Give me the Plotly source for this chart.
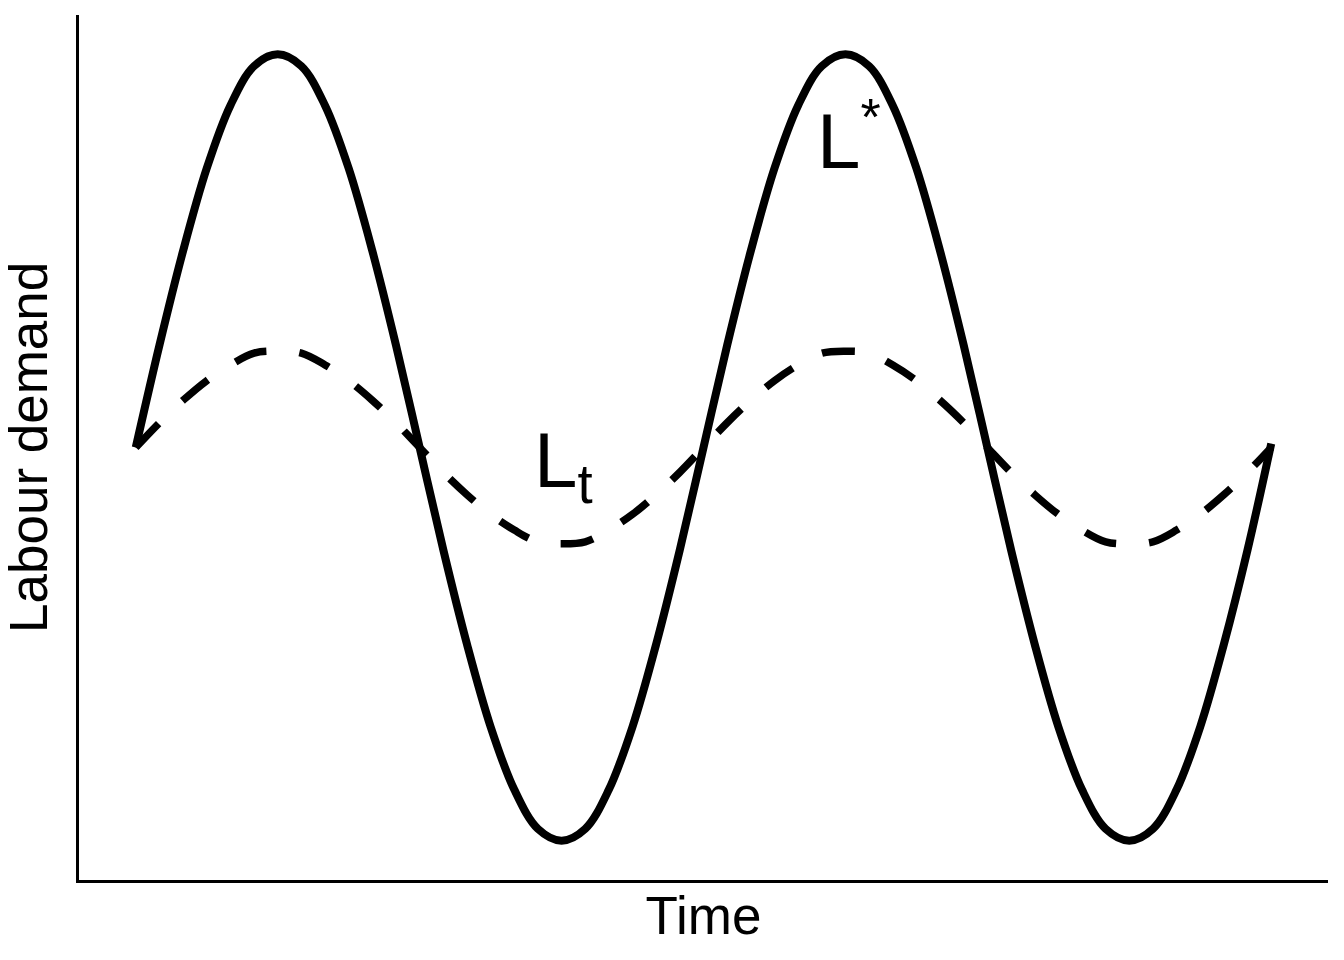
import plotly.graph_objects as go

# Time index (steps of 1/24 of a cycle)
time_idx = list(range(49))
# Target labour demand L* (solid)
l_star = [0.00, 0.26, 0.50, 0.71, 0.87, 0.97, 1.00, 0.97, 0.87, 0.71, 0.50, 0.26,
          0.00, -0.26, -0.50, -0.71, -0.87, -0.97, -1.00, -0.97, -0.87, -0.71, -0.50, -0.26,
          0.00, 0.26, 0.50, 0.71, 0.87, 0.97, 1.00, 0.97, 0.87, 0.71, 0.50, 0.26,
          0.00, -0.26, -0.50, -0.71, -0.87, -0.97, -1.00, -0.97, -0.87, -0.71, -0.50, -0.26,
          0.01]
# Actual labour demand Lt (dashed)
l_t = [0.00, 0.063, 0.12, 0.17, 0.21, 0.24, 0.245, 0.24, 0.21, 0.17, 0.12, 0.063,
       0.00, -0.063, -0.12, -0.17, -0.21, -0.24, -0.245, -0.24, -0.21, -0.17, -0.12, -0.063,
       0.00, 0.063, 0.12, 0.17, 0.21, 0.24, 0.245, 0.24, 0.21, 0.17, 0.12, 0.063,
       0.00, -0.063, -0.12, -0.17, -0.21, -0.24, -0.245, -0.24, -0.21, -0.17, -0.12, -0.063,
       0.00]

FONT = "Liberation Sans, Arial, sans-serif"

fig = go.Figure()
fig.add_trace(go.Scatter(x=time_idx, y=l_t, mode="lines",
                         line=dict(color="black", width=7.5, dash="33px,33px", shape="spline"),
                         showlegend=False, hoverinfo="skip"))
fig.add_trace(go.Scatter(x=time_idx, y=l_star, mode="lines",
                         line=dict(color="black", width=8, shape="spline"),
                         showlegend=False, hoverinfo="skip"))

fig.add_annotation(x=28.7, y=0.79, xref="x", yref="y",
                   text='L<sup><span style="font-size:52px">*</span></sup>',
                   showarrow=False, xanchor="left", yanchor="middle",
                   font=dict(family=FONT, size=78, color="black"))
fig.add_annotation(x=16.74, y=-0.045, xref="x", yref="y", text="L<sub>t</sub>",
                   showarrow=False, xanchor="left", yanchor="middle",
                   font=dict(family=FONT, size=78, color="black"))
# y-axis title
fig.add_annotation(x=0, y=0.5, xref="paper", yref="paper", text="Labour demand",
                   textangle=-90, showarrow=False, xanchor="right", yanchor="middle",
                   xshift=-19, font=dict(family=FONT, size=53, color="black"))

fig.update_layout(
    width=1328, height=944,
    margin=dict(l=71, r=8, t=7, b=72),
    paper_bgcolor="white", plot_bgcolor="white",
    font=dict(family=FONT, color="black"),
    xaxis=dict(range=[-2.4, 50.4], showgrid=False, zeroline=False, showticklabels=False,
               ticks="", showline=True, linecolor="black", linewidth=2.5,
               title=dict(text="Time", font=dict(size=53, family=FONT, color="black"), standoff=16)),
    yaxis=dict(range=[-1.1, 1.1], showgrid=False, zeroline=False, showticklabels=False,
               ticks="", showline=True, linecolor="black", linewidth=2.5),
)

fig.write_html("out.html")
